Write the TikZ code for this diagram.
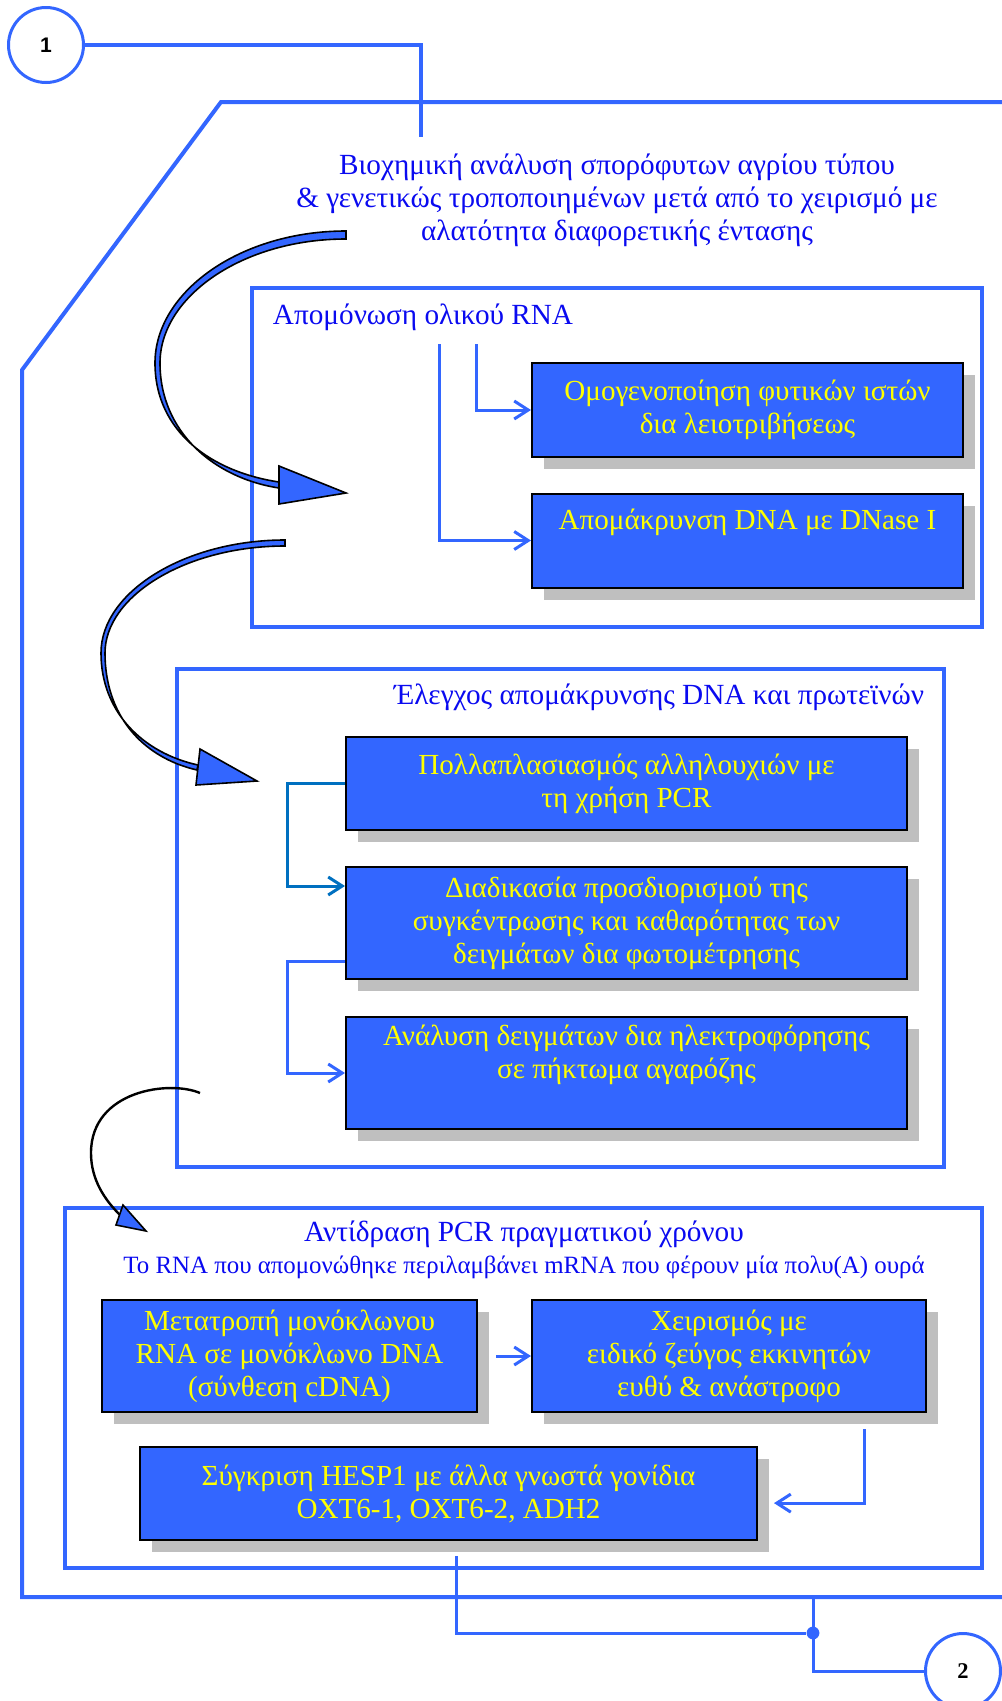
\documentclass[tikz,border=0pt]{standalone}
\usepackage{fontspec}
\setmainfont{Liberation Serif}
\newfontfamily\numfont{Liberation Sans}
\usetikzlibrary{arrows.meta,shadows}

\definecolor{frameblue}{RGB}{51,102,255}
\definecolor{boxblue}{RGB}{51,102,255}
\definecolor{darkline}{RGB}{0,112,192}
\definecolor{shadowgray}{RGB}{191,191,191}
\definecolor{titleblue}{RGB}{10,10,240}
\definecolor{boxyellow}{RGB}{255,255,0}

\tikzset{
  frame/.style={draw=frameblue, line width=1mm},
  wire/.style={draw=frameblue, line width=0.75mm},
  link/.style={draw=frameblue, line width=0.75mm, ->},
  stepbox/.style={draw=black, line width=0.5mm, fill=boxblue, text=boxyellow,
    align=center, font=\fontsize{20.7}{23.5}\selectfont,
    drop shadow={shadow xshift=3mm, shadow yshift=-3mm, fill=shadowgray, opacity=1}},
  heading/.style={text=titleblue, align=center, font=\fontsize{20.8}{23.5}\selectfont},
  numcircle/.style={circle, draw=frameblue, line width=0.75mm, minimum size=18.75mm, inner sep=0pt},
  >={Straight Barb[length=3.5mm,width=4.5mm]}
}

\begin{document}
\begin{tikzpicture}[x=0.25mm, y=-0.25mm]
    \useasboundingbox (0,0) rectangle (1002,1701);
    \clip (0,0) rectangle (1002,1701);

    \draw [frame] (1010,102) -- (221,102) -- (22,370) -- (22,1597) -- (1010,1597);
    \foreach \xa/\ya/\xb/\yb in {252/288/982/627, 177/669/944/1167, 65/1208/982/1568}
    {
        \draw [frame] (\xa,\ya) rectangle (\xb,\yb);
    }

    \node [numcircle] (n1) at (46,45) {\numfont\bfseries\fontsize{15}{15}\selectfont 1};
    \node [numcircle] (n2) at (963,1671) {\bfseries\fontsize{16}{16}\selectfont 2};

    \node [heading] (title) at (617,200) {Βιοχημική ανάλυση σπορόφυτων αγρίου τύπου\\
        \& γενετικώς τροποποιημένων μετά από το χειρισμό με\\
        αλατότητα διαφορετικής έντασης};
    \node [heading, anchor=west] (rnahead) at (268,317) {Απομόνωση ολικού RNA};
    \node [heading, anchor=east] (checkhead) at (929,697) {Έλεγχος απομάκρυνσης DNA και πρωτεϊνών};
    \node [heading] (pcrhead) at (524,1250) {Αντίδραση PCR πραγματικού χρόνου\\[-1pt]
        {\fontsize{17.7}{19}\selectfont Το RNA που απομονώθηκε περιλαμβάνει mRNA που φέρουν μία πολυ(A) ουρά}};

    \node [stepbox, minimum width=107.75mm, minimum height=23.5mm] (homog) at (747.5,410)
        {Ομογενοποίηση φυτικών ιστών\\ δια λειοτριβήσεως};
    \node [stepbox, minimum width=107.75mm, minimum height=23.5mm] (dnase) at (747.5,540.5)
        {Απομάκρυνση DNA με DNase I\\ \strut};
    \node [stepbox, minimum width=140.25mm, minimum height=23.25mm] (amplify) at (626.5,783.5)
        {Πολλαπλασιασμός αλληλουχιών με\\ τη χρήση PCR};
    \node [stepbox, minimum width=140.25mm, minimum height=28mm] (photo) at (626.5,923)
        {Διαδικασία προσδιορισμού της\\ συγκέντρωσης και καθαρότητας των\\ δειγμάτων δια φωτομέτρησης};
    \node [stepbox, minimum width=140.25mm, minimum height=28mm] (gel) at (626.5,1073)
        {Ανάλυση δειγμάτων δια ηλεκτροφόρησης\\ σε πήκτωμα αγαρόζης\\ \strut};
    \node [stepbox, minimum width=93.75mm, minimum height=28mm] (cdna) at (289.5,1356)
        {Μετατροπή μονόκλωνου\\ RNA σε μονόκλωνο DNA\\ (σύνθεση cDNA)};
    \node [stepbox, minimum width=98.5mm, minimum height=28mm] (primers) at (729,1356)
        {Χειρισμός με\\ ειδικό ζεύγος εκκινητών\\ ευθύ \& ανάστροφο};
    \node [stepbox, minimum width=154.25mm, minimum height=23.25mm] (compare) at (448.5,1493.5)
        {Σύγκριση HESP1 με άλλα γνωστά γονίδια\\ OXT6-1, OXT6-2, ADH2};

    \coordinate (t0) at (421,137);
    \coordinate (r1) at (439,344);
    \coordinate (r2) at (476,344);
    \coordinate (fb) at (813,1597);
    \node [circle, fill=frameblue, inner sep=0pt, minimum size=3.2mm] (joint) at (813,1633) {};

    \draw [wire, line width=1mm] (n1.east) -| (t0);
    \draw [link] (r2) |- (homog.west);
    \draw [link] (r1) |- (dnase.west);
    \draw [link, draw=darkline] (amplify.west) -- ++(-57,0) |- ([yshift=9.25mm]photo.west);
    \draw [link] ([yshift=-9.5mm]photo.west) -- ++(-57,0) |- (gel.west);
    \draw [link] ([xshift=4.5mm]cdna.east) -- (primers.west);
    \draw [link] ([xshift=33.75mm,yshift=-4mm]primers.south) |- ([xshift=4mm,yshift=-2.4mm]compare.east);
    \draw [wire] ([xshift=2.1mm,yshift=-3.75mm]compare.south) |- (joint);
    \draw [wire] (fb) |- (n2.west);

    \fill [boxblue, draw=black, line width=0.4mm] (346,231) .. controls (240,231) and (155,292) .. (155,363)
        .. controls (155,432) and (212,472) .. (279,482) -- (279,488)
        .. controls (214,478) and (160,432) .. (160,363) .. controls (160,297) and (242,239) .. (346,239) -- cycle;
    \draw [fill=boxblue, line width=0.4mm] (279,466) -- (346,493) -- (279,504) -- cycle;

    \fill [boxblue, draw=black, line width=0.4mm] (285,540) .. controls (185,540) and (101,592) .. (101,653)
        .. controls (101,712) and (143,753) .. (198,765) -- (197,770)
        .. controls (141,757) and (105,714) .. (105,653) .. controls (105,596) and (186,546) .. (285,546) -- cycle;
    \draw [fill=boxblue, line width=0.4mm] (200,749) -- (257,781) -- (196,785) -- cycle;

    \draw [line width=0.6mm] (200,1093) .. controls (170,1080) and (91,1090) .. (91,1153)
        .. controls (91,1180) and (105,1200) .. (120,1215);
    \draw [fill=boxblue, line width=0.4mm] (123,1205) -- (146,1231) -- (116,1225) -- cycle;
\end{tikzpicture}
\end{document}
